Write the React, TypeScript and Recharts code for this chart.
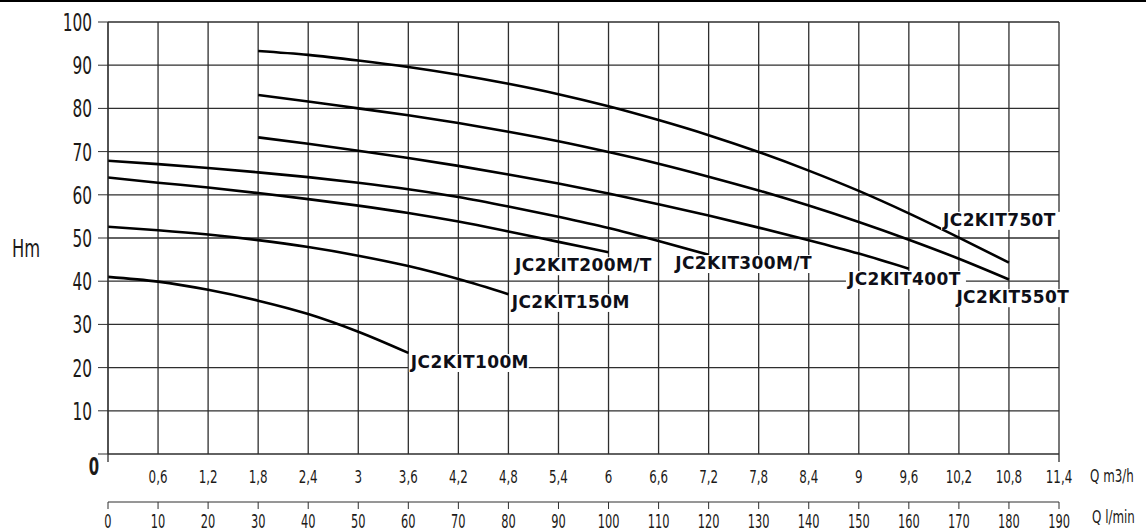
import React from "react";
import {
  LineChart,
  Line,
  XAxis,
  YAxis,
  CartesianGrid,
  ReferenceDot,
} from "recharts";

// flow points (m3/h) the curves are read at
const Q_M3H = [0, 0.6, 1.2, 1.8, 2.4, 3, 3.6, 4.2, 4.8, 5.4, 6, 6.6, 7.2, 7.8, 8.4, 9, 9.6, 10.2, 10.8];

// head (m) per model, aligned with Q_M3H (null = curve not drawn there)
const H_100M = [41.0, 39.9, 38.0, 35.5, 32.4, 28.3, 23.4];
const H_150M = [52.6, 51.8, 50.8, 49.5, 47.9, 45.9, 43.5, 40.5, 37.0];
const H_200MT = [64.0, 62.8, 61.7, 60.4, 59.0, 57.5, 55.8, 53.8, 51.5, 49.1, 46.7];
const H_300MT = [67.9, 67.1, 66.2, 65.2, 64.1, 62.8, 61.3, 59.5, 57.3, 54.9, 52.3, 49.3, 46.1];
const H_400T = [null, null, null, 73.3, 71.8, 70.2, 68.5, 66.7, 64.7, 62.6, 60.3, 57.8, 55.2, 52.4, 49.5, 46.4, 42.9];
const H_550T = [null, null, null, 83.1, 81.6, 80.0, 78.4, 76.6, 74.6, 72.4, 69.9, 67.2, 64.2, 61.0, 57.5, 53.7, 49.6, 45.2, 40.4];
const H_750T = [null, null, null, 93.3, 92.4, 91.1, 89.6, 87.8, 85.7, 83.3, 80.5, 77.3, 73.8, 69.9, 65.6, 60.9, 55.7, 50.1, 44.3];

const Q_TICKS = [0, 0.6, 1.2, 1.8, 2.4, 3, 3.6, 4.2, 4.8, 5.4, 6, 6.6, 7.2, 7.8, 8.4, 9, 9.6, 10.2, 10.8, 11.4];
const LMIN_TICKS = [0, 10, 20, 30, 40, 50, 60, 70, 80, 90, 100, 110, 120, 130, 140, 150, 160, 170, 180, 190];
const H_TICKS = [0, 10, 20, 30, 40, 50, 60, 70, 80, 90, 100];

const SERIES = [
  { key: "k100", name: "JC2KIT100M", values: H_100M },
  { key: "k150", name: "JC2KIT150M", values: H_150M },
  { key: "k200", name: "JC2KIT200M/T", values: H_200MT },
  { key: "k300", name: "JC2KIT300M/T", values: H_300MT },
  { key: "k400", name: "JC2KIT400T", values: H_400T },
  { key: "k550", name: "JC2KIT550T", values: H_550T },
  { key: "k750", name: "JC2KIT750T", values: H_750T },
];

// where each model name sits (left edge / vertical centre, in chart units)
const CURVE_LABELS = [
  { text: "JC2KIT100M", q: 3.63, h: 21.3 },
  { text: "JC2KIT150M", q: 4.84, h: 35.2 },
  { text: "JC2KIT200M/T", q: 4.88, h: 43.7 },
  { text: "JC2KIT300M/T", q: 6.8, h: 44.2 },
  { text: "JC2KIT400T", q: 8.87, h: 40.5 },
  { text: "JC2KIT550T", q: 10.17, h: 36.3 },
  { text: "JC2KIT750T", q: 10.01, h: 54.2 },
];

// 1 m3/h = 1000/60 l/min, used to place the second flow axis
const rows = Q_M3H.map((q, i) => {
  const row: Record<string, number | null> = { q, lmin: (q * 1000) / 60 };
  SERIES.forEach((s) => {
    row[s.key] = s.values[i] ?? null;
  });
  return row;
});

const TICK_FONT = "'DejaVu Sans', sans-serif";
const TICK_COLOR = "#1c1a18";
const GRID = "#2e2e2e";

function HeadTick({ x, y, payload }: any) {
  if (payload.value === 0) {
    return (
      <text
        transform={`translate(${x + 2},${y + 21}) scale(0.62,1)`}
        textAnchor="middle"
        fontFamily={TICK_FONT}
        fontWeight="bold"
        fontSize={24}
        fill={TICK_COLOR}
      >
        0
      </text>
    );
  }
  return (
    <text
      transform={`translate(${x},${y + 9}) scale(0.64,1)`}
      textAnchor="end"
      fontFamily={TICK_FONT}
      fontSize={24}
      fill={TICK_COLOR}
    >
      {payload.value}
    </text>
  );
}

function FlowTick({ x, y, payload }: any) {
  const v = payload.value;
  const edge = v === 0 || v === 11.4;
  return (
    <g>
      {edge && <line x1={x} x2={x} y1={y - 8} y2={y} stroke={GRID} strokeWidth={1.3} />}
      {v !== 0 && (
        <text
          transform={`translate(${x},${y + 21}) scale(0.66,1)`}
          textAnchor="middle"
          fontFamily={TICK_FONT}
          fontSize={18}
          fill={TICK_COLOR}
        >
          {String(v).replace(".", ",")}
        </text>
      )}
    </g>
  );
}

function LminTick({ x, y, payload }: any) {
  return (
    <text
      transform={`translate(${x},${y + 19}) scale(0.6,1)`}
      textAnchor="middle"
      fontFamily={TICK_FONT}
      fontSize={19}
      fill={TICK_COLOR}
    >
      {payload.value}
    </text>
  );
}

function CurveLabel({ cx, cy, text }: any) {
  const w = text.length * 11.6 + 4;
  return (
    <g>
      <rect x={cx - 2} y={cy - 8} width={w} height={18} fill="#fff" />
      <text
        x={cx}
        y={cy + 6}
        fontFamily="'DejaVu Sans', Verdana, sans-serif"
        fontWeight="bold"
        fontSize={17}
        letterSpacing={0.4}
        fill="#0e0f18"
      >
        {text}
      </text>
    </g>
  );
}

export default function App() {
  return (
    <div style={{ position: "absolute", left: 0, top: 0, width: 1146, height: 532, background: "#fff" }}>
      <div style={{ position: "absolute", left: 0, top: 0, width: 1146, height: 2, background: "#000" }} />
      <LineChart
        width={1146}
        height={532}
        data={rows}
        margin={{ top: 22, right: 87, left: 8, bottom: 0 }}
      >
        <CartesianGrid stroke={GRID} strokeWidth={1.3} />
        <XAxis
          dataKey="q"
          type="number"
          domain={[0, 11.4]}
          allowDataOverflow
          ticks={Q_TICKS}
          interval={0}
          height={48}
          axisLine={false}
          tickLine={false}
          tickSize={8}
          tickMargin={0}
          tick={(p: any) => <FlowTick {...p} />}
        />
        <XAxis
          xAxisId="lmin"
          dataKey="lmin"
          type="number"
          domain={[0, 190]}
          allowDataOverflow
          ticks={LMIN_TICKS}
          interval={0}
          height={30}
          stroke={GRID}
          tickSize={7}
          tickMargin={0}
          tick={(p: any) => <LminTick {...p} />}
        />
        <YAxis
          type="number"
          domain={[0, 100]}
          ticks={H_TICKS}
          interval={0}
          width={100}
          stroke={GRID}
          tickSize={10}
          tickMargin={6}
          tick={(p: any) => <HeadTick {...p} />}
        />
        {SERIES.map((s) => (
          <Line
            key={s.key}
            dataKey={s.key}
            name={s.name}
            type="monotone"
            stroke="#000"
            strokeWidth={2.6}
            dot={false}
            activeDot={false}
            isAnimationActive={false}
          />
        ))}
        {CURVE_LABELS.map((l) => (
          <ReferenceDot
            key={l.text}
            x={l.q}
            y={l.h}
            r={0}
            ifOverflow="visible"
            shape={(p: any) => <CurveLabel cx={p.cx} cy={p.cy} text={l.text} />}
          />
        ))}
      </LineChart>
      <svg
        width={1146}
        height={532}
        style={{ position: "absolute", left: 0, top: 0, pointerEvents: "none" }}
      >
        <text transform="translate(12,257) scale(0.68,1)" fontFamily={TICK_FONT} fontSize={24} fill={TICK_COLOR}>
          Hm
        </text>
        <text transform="translate(1090,482) scale(0.66,1)" fontFamily={TICK_FONT} fontSize={18} fill={TICK_COLOR}>
          Q m3/h
        </text>
        <text transform="translate(1092,523) scale(0.66,1)" fontFamily={TICK_FONT} fontSize={18} fill={TICK_COLOR}>
          Q l/min
        </text>
      </svg>
    </div>
  );
}
